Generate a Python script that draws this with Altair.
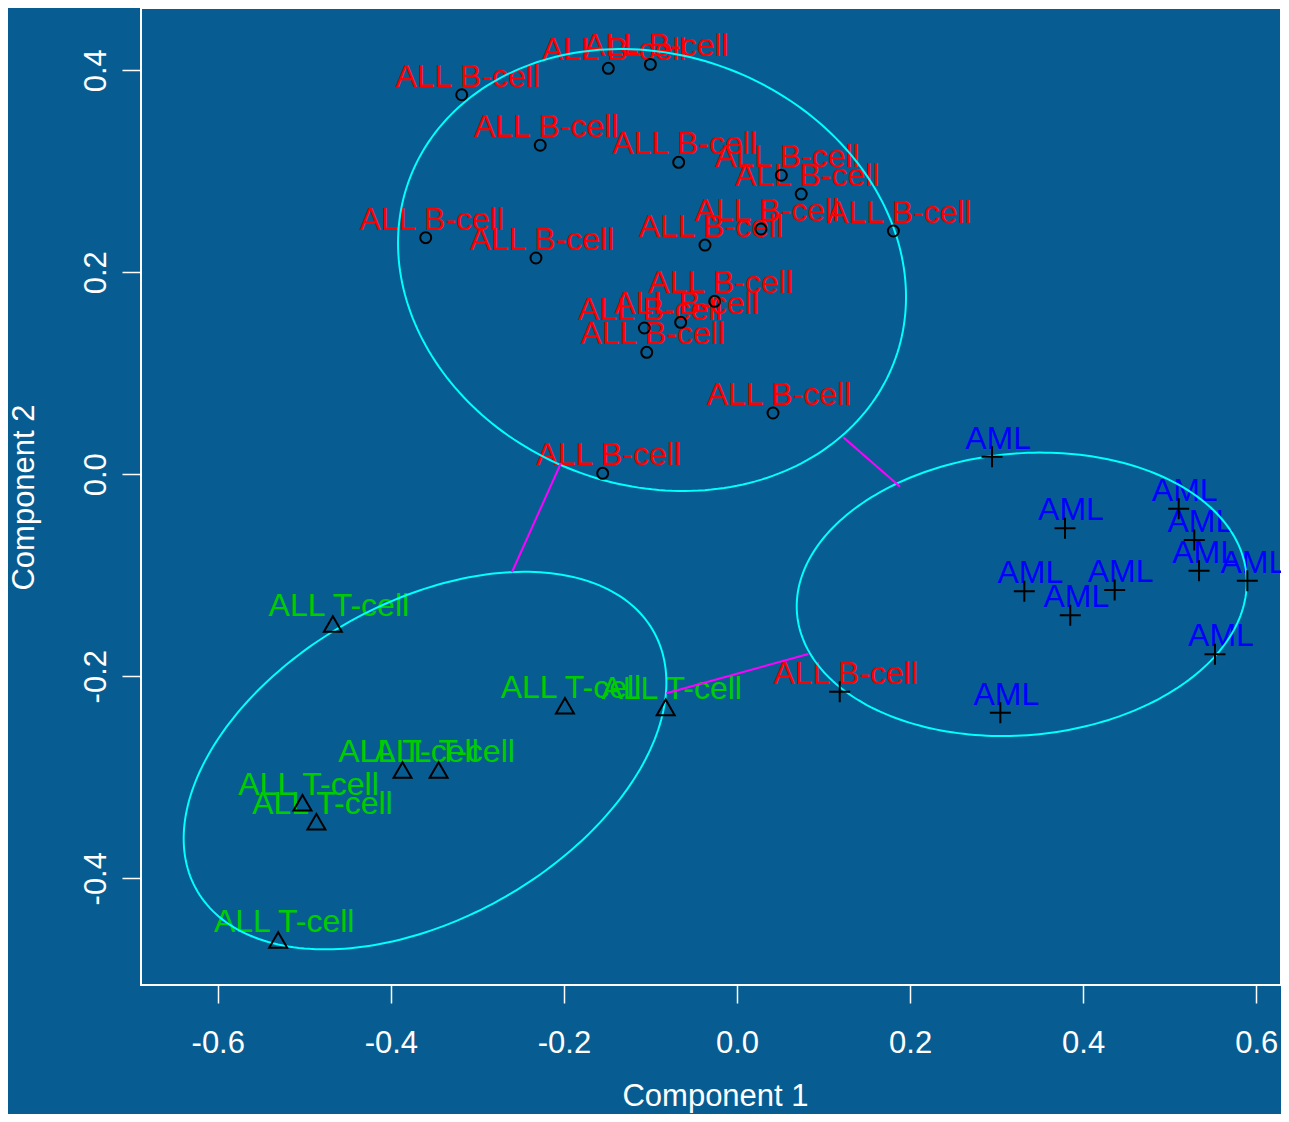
import altair as alt
import numpy as np
import pandas as pd

BG = "#075d91"
FONT = "Liberation Sans"
MINUS = "\u2212"

# ---- data ----
# ALL B-cell observations in cluster 1 (circles)
b_x = [-0.3181, -0.1487, -0.1001, -0.2274, -0.0674, 0.0512, 0.0742, -0.3597, -0.2323,
       -0.0370, 0.0277, 0.1807, -0.0258, -0.0651, -0.1071, -0.1043, 0.0416, -0.1552]
b_y = [0.3757, 0.4019, 0.4058, 0.3257, 0.3088, 0.2960, 0.2774, 0.2342, 0.2141,
       0.2269, 0.2428, 0.2408, 0.1712, 0.1504, 0.1448, 0.1207, 0.0606, 0.0009]
# ALL T-cell observations in cluster 2 (triangles)
t_x = [-0.4670, -0.1988, -0.0824, -0.3865, -0.3448, -0.5021, -0.4860, -0.5302]
t_y = [-0.1483, -0.2292, -0.2308, -0.2929, -0.2929, -0.3252, -0.3441, -0.4612]
# cluster 3 (plus signs): AML and one ALL B-cell
a_x = [0.2947, 0.3790, 0.5104, 0.5284, 0.5339, 0.5897, 0.3320, 0.4364, 0.3851, 0.5523, 0.3043, 0.1187]
a_y = [0.0173, -0.0536, -0.0342, -0.0651, -0.0955, -0.1054, -0.1159, -0.1147, -0.1397, -0.1783, -0.2361, -0.2153]
a_lab = ["AML"] * 11 + ["ALL B-cell"]

# cluster ellipses: centre, half x-extent, half y-extent, y-offset of rightmost point
ell_cx = [-0.0982, -0.3605, 0.3290]
ell_cy = [0.2022, -0.2835, -0.1189]
ell_wx = [0.2935, 0.2789, 0.2600]
ell_wy = [0.2188, 0.1869, 0.1403]
ell_a2 = [-0.0267, 0.0772, 0.0119]

# connecting segments between ellipses
seg_x = [-0.2034, 0.1228, -0.0816]
seg_y = [0.0111, 0.0365, -0.2169]
seg_x2 = [-0.2600, 0.1884, 0.0824]
seg_y2 = [-0.0968, -0.0124, -0.1780]

x_ticks = [-0.6, -0.4, -0.2, 0.0, 0.2, 0.4, 0.6]
y_ticks = [-0.4, -0.2, 0.0, 0.2, 0.4]
x_dom = [-0.6887, 0.6286]
y_dom = [-0.5057, 0.4616]

# ---- tables ----
pts = pd.DataFrame({
    "x": b_x + t_x + a_x,
    "y": b_y + t_y + a_y,
    "label": ["ALL B-cell"] * len(b_x) + ["ALL T-cell"] * len(t_x) + a_lab,
    "cluster": ["1"] * len(b_x) + ["2"] * len(t_x) + ["3"] * len(a_x),
})

rows = []
tt = np.linspace(0, 2 * np.pi, 241)
for k in range(3):
    b2 = np.sqrt(ell_wy[k] ** 2 - ell_a2[k] ** 2)
    for i, t in enumerate(tt):
        rows.append({
            "e": k, "i": i,
            "x": ell_cx[k] + ell_wx[k] * np.cos(t),
            "y": ell_cy[k] + ell_a2[k] * np.cos(t) + b2 * np.sin(t),
        })
ell = pd.DataFrame(rows)
segs = pd.DataFrame({"x": seg_x, "y": seg_y, "x2": seg_x2, "y2": seg_y2})

xs = alt.Scale(domain=x_dom, nice=False, zero=False)
ys = alt.Scale(domain=y_dom, nice=False, zero=False)

x_axis = alt.Axis(
    values=x_ticks, labelExpr=f"replace(format(datum.value, '.1f'), '{MINUS}', '-')",
    grid=False, domain=False, ticks=True, tickSize=18, tickWidth=1.5, tickColor="white",
    labelColor="white", labelFont=FONT, labelFontSize=31, labelPadding=25,
    labelBaseline="top", labelFlush=False, labelOverlap=False,
    title="Component 1", titleFont=FONT, titleFontSize=31, titleFontWeight="normal",
    titleColor="white", titleX=574, titleY=120, titleBaseline="alphabetic", titleAlign="center",
)
y_axis = alt.Axis(
    values=y_ticks, labelExpr=f"replace(format(datum.value, '.1f'), '{MINUS}', '-')",
    grid=False, domain=False, ticks=True, tickSize=19, tickWidth=1.5, tickColor="white",
    labelColor="white", labelFont=FONT, labelFontSize=31, labelPadding=17,
    labelAngle=270, labelAlign="center", labelBaseline="alphabetic", labelFlush=False,
    labelOverlap=False,
    title="Component 2", titleFont=FONT, titleFontSize=31, titleFontWeight="normal",
    titleColor="white", titleAngle=270, titleX=-108, titleY=489,
    titleBaseline="alphabetic", titleAlign="center",
)

base_x = alt.X("x:Q", scale=xs, axis=x_axis)
base_y = alt.Y("y:Q", scale=ys, axis=y_axis)

text = alt.Chart(pts).mark_text(
    font=FONT, fontSize=32, dx=6, dy=-8, align="center", baseline="alphabetic"
).encode(
    x=base_x, y=base_y, text="label:N",
    color=alt.Color("label:N", scale=alt.Scale(domain=["ALL B-cell", "ALL T-cell", "AML"],
                                              range=["#ff0000", "#00cd00", "#0000ff"]), legend=None),
)

ellipses = alt.Chart(ell).mark_line(color="#00ffff", strokeWidth=2).encode(
    x=alt.X("x:Q", scale=xs), y=alt.Y("y:Q", scale=ys), detail="e:N", order="i:Q"
)

rules = alt.Chart(segs).mark_rule(color="#ff00ff", strokeWidth=2).encode(
    x=alt.X("x:Q", scale=xs), y=alt.Y("y:Q", scale=ys), x2="x2:Q", y2="y2:Q"
)

p1 = alt.Chart(pts).transform_filter("datum.cluster == '1'").mark_point(
    shape="circle", size=120, filled=False, color="black", strokeWidth=2, opacity=1
).encode(x=alt.X("x:Q", scale=xs), y=alt.Y("y:Q", scale=ys))
p2 = alt.Chart(pts).transform_filter("datum.cluster == '2'").mark_point(
    shape="triangle-up", size=324, filled=False, color="black", strokeWidth=2, opacity=1
).encode(x=alt.X("x:Q", scale=xs), y=alt.Y("y:Q", scale=ys))
p3 = alt.Chart(pts).transform_filter("datum.cluster == '3'").mark_point(
    shape="M-1,0L1,0M0,-1L0,1", size=441, filled=False, color="black", strokeWidth=2, opacity=1
).encode(x=alt.X("x:Q", scale=xs), y=alt.Y("y:Q", scale=ys))

chart = alt.layer(text, ellipses, rules, p1, p2, p3).properties(
    width=1140, height=977,
    autosize=alt.AutoSizeParams(type="none"),
    padding={"left": 133, "top": 0, "right": 0, "bottom": 129},
    background=BG,
).configure_view(
    fill=BG, stroke="white", strokeWidth=2
)

chart.save("out.html", embed_options={"renderer": "svg", "actions": False})
